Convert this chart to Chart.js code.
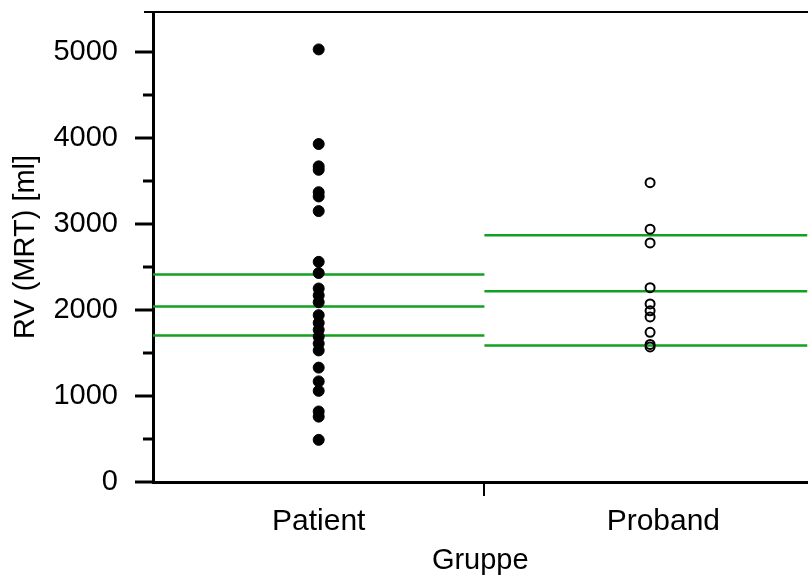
<!DOCTYPE html>
<html>
<head>
<meta charset="utf-8">
<script src="https://cdn.jsdelivr.net/npm/chart.js@4"></script>
<style>
  html, body { margin: 0; padding: 0; background: #fff; overflow: hidden; }
  #wrap { width: 814px; height: 578px; position: relative; }
</style>
</head>
<body>
<div id="wrap"><canvas id="chart"></canvas></div>
<script>
// Gruppen und Messwerte RV (MRT) in ml
const groups = ['Patient', 'Proband'];
const patientRV = [5030, 3930, 3670, 3630, 3370, 3320, 3150, 2560, 2430, 2250, 2170, 2090,
                   1940, 1850, 1770, 1690, 1610, 1530, 1330, 1170, 1060, 820, 760, 490];
const probandRV = [3480, 2940, 2780, 2260, 2070, 1990, 1920, 1740, 1600, 1570];
// Mittelwert und Streuung je Gruppe (grüne Linien)
const patientLines = [2414, 2041, 1703];
const probandLines = [2869, 2219, 1586];
const yTicks = [0, 1000, 2000, 3000, 4000, 5000];

const FONT = 'Liberation Sans, Arial, sans-serif';
const GREEN = '#13a022';

function points(values, xPos) {
    return values.map(v => ({ x: xPos, y: v }));
}

function levelLines(levels, x0, x1) {
    return levels.map(v => ({
        type: 'scatter',
        data: [{ x: x0, y: v }, { x: x1, y: v }],
        showLine: true,
        borderColor: GREEN,
        borderWidth: 2.5,
        pointRadius: 0,
        order: 2
    }));
}

// Achsenmarken links (lang bei 1000er, kurz bei 500er) und obere Rahmenlinie
const axisMarks = {
    id: 'axisMarks',
    afterDraw(chart) {
        const ctx = chart.ctx;
        const y = chart.scales.y;
        const area = chart.chartArea;
        ctx.save();
        ctx.strokeStyle = '#000';
        ctx.lineWidth = 3;
        y.ticks.forEach(t => {
            const py = Math.round(y.getPixelForValue(t.value));
            const len = t.value % 1000 === 0 ? 18 : 10;
            ctx.beginPath();
            ctx.moveTo(area.left - len, py);
            ctx.lineTo(area.left, py);
            ctx.stroke();
        });
        ctx.lineWidth = 2;
        ctx.beginPath();
        ctx.moveTo(area.left - 9, area.top);
        ctx.lineTo(chart.width, area.top);
        ctx.stroke();
        ctx.restore();
    }
};

new Chart(document.getElementById('chart'), {
    type: 'scatter',
    data: {
        datasets: [
            {
                label: groups[0],
                data: points(patientRV, 0.5),
                pointRadius: 5.5,
                pointBorderWidth: 1,
                pointBackgroundColor: '#000',
                pointBorderColor: '#000',
                order: 1
            },
            {
                label: groups[1],
                data: points(probandRV, 1.5),
                pointRadius: 4.5,
                pointBorderWidth: 2,
                pointBackgroundColor: 'rgba(255,255,255,0)',
                pointBorderColor: '#000',
                order: 1
            },
            ...levelLines(patientLines, 0, 1),
            ...levelLines(probandLines, 1, 1.975)
        ]
    },
    plugins: [axisMarks],
    options: {
        responsive: true,
        maintainAspectRatio: false,
        animation: false,
        layout: { padding: { top: 12, right: 0, left: 0, bottom: 0 } },
        plugins: {
            legend: { display: false },
            tooltip: { enabled: false }
        },
        scales: {
            x: {
                type: 'linear',
                min: 0,
                max: 1.975,
                afterFit(scale) {
                    scale.height = 96;
                    scale.paddingLeft = 0;
                    scale.paddingRight = 0;
                },
                afterBuildTicks(scale) {
                    scale.ticks = [{ value: 0.5 }, { value: 1 }, { value: 1.54 }];
                },
                border: { color: '#000', width: 3 },
                grid: {
                    drawOnChartArea: false,
                    tickLength: 14,
                    lineWidth: 2,
                    tickColor: ctx => (ctx.tick && ctx.tick.value === 1 ? '#000' : 'rgba(0,0,0,0)')
                },
                ticks: {
                    padding: 8,
                    color: '#000',
                    font: { family: FONT, size: 30 },
                    callback: v => (v === 0.5 ? groups[0] : v === 1.54 ? groups[1] : '')
                },
                title: {
                    display: true,
                    text: 'Gruppe',
                    color: '#000',
                    font: { family: FONT, size: 29 },
                    padding: { top: 0, bottom: 0 }
                }
            },
            y: {
                min: 0,
                max: 5465,
                afterFit(scale) {
                    scale.width = 153;
                    scale.paddingTop = 0;
                    scale.paddingBottom = 0;
                },
                afterBuildTicks(scale) {
                    const t = [];
                    for (let v = 0; v <= yTicks[yTicks.length - 1]; v += 500) t.push({ value: v });
                    scale.ticks = t;
                },
                border: { color: '#000', width: 3 },
                grid: {
                    drawOnChartArea: false,
                    tickLength: 18,
                    tickColor: 'rgba(0,0,0,0)'
                },
                ticks: {
                    padding: 17,
                    color: '#000',
                    font: { family: FONT, size: 29 },
                    callback: v => (yTicks.includes(v) ? String(v) : '')
                },
                title: {
                    display: true,
                    text: 'RV (MRT) [ml]',
                    color: '#000',
                    font: { family: FONT, size: 29 },
                    padding: { top: 9, bottom: 0 }
                }
            }
        }
    }
});
</script>
</body>
</html>
